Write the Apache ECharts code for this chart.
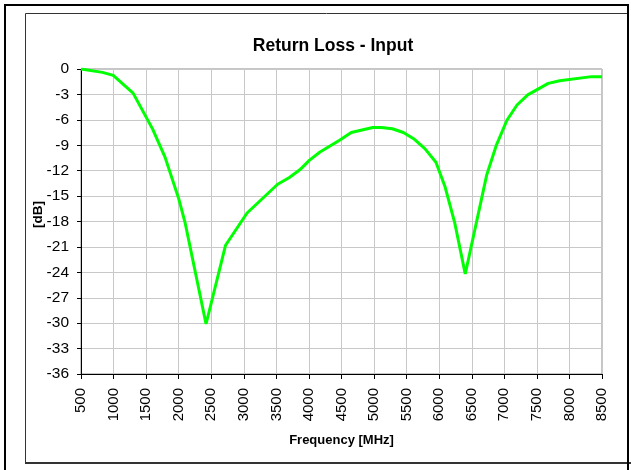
<!DOCTYPE html>
<html>
<head>
<meta charset="utf-8">
<script src="https://cdn.jsdelivr.net/npm/echarts@6/dist/echarts.min.js"></script>
<style>
  html, body { margin: 0; padding: 0; background: #fff; }
  #chart { width: 631px; height: 470px; }
</style>
</head>
<body>
<div id="chart"></div>
<script>
// frequency points [MHz]
const freqs = [500, 830, 995, 1300, 1600, 1790, 2000, 2100, 2420, 2720, 3050, 3520, 3700, 3860, 4010,
  4170, 4470, 4650, 4980, 5110, 5280, 5450, 5620, 5780, 5950, 6090, 6240, 6400, 6730, 6880, 7040,
  7195, 7360, 7675, 7850, 8340, 8500];
// return loss [dB]
const returnLoss = [0, -0.4, -0.75, -2.85, -7.1, -10.4, -15.3, -18.2, -30.1, -20.8, -17.0, -13.6, -12.8, -11.9, -10.75,
  -9.8, -8.4, -7.5, -6.9, -6.9, -7.05, -7.5, -8.3, -9.4, -11.0, -13.9, -18.2, -24.2, -12.5, -8.95, -6.05,
  -4.25, -3.05, -1.7, -1.38, -0.9, -0.9];

const chart = echarts.init(document.getElementById("chart"), null, { renderer: "canvas" });
const font = "'Liberation Sans', Arial, sans-serif";

chart.setOption({
  animation: false,
  backgroundColor: "#fff",
  title: {
    text: "Return Loss - Input",
    left: 328,
    top: 32,
    textAlign: "center",
    textStyle: { fontFamily: font, fontSize: 17.5, fontWeight: "bold", color: "#000" },
  },
  grid: {
    left: 81,
    top: 69,
    right: 29,
    bottom: 96,
    show: true,
    borderColor: "#8c8c8c",
    borderWidth: 1,
  },
  xAxis: {
    type: "value",
    min: 500,
    max: 8500,
    interval: 500,
    name: "Frequency [MHz]",
    nameLocation: "middle",
    nameGap: 60,
    nameMoveOverlap: false,
    nameTextStyle: { fontFamily: font, fontSize: 13, fontWeight: "bold", color: "#000" },
    axisLine: { onZero: false, lineStyle: { color: "#000", width: 1 } },
    axisTick: { length: 5, lineStyle: { color: "#000" } },
    axisLabel: { rotate: 90, margin: 14, fontFamily: font, fontSize: 15, color: "#000", formatter: v => String(v) },
    splitLine: { show: true, lineStyle: { color: "#c8c8c8", width: 1 } },
  },
  yAxis: {
    type: "value",
    min: -36,
    max: 0,
    interval: 3,
    name: "[dB]",
    nameLocation: "middle",
    nameGap: 36,
    nameRotate: 90,
    nameMoveOverlap: false,
    nameTextStyle: { fontFamily: font, fontSize: 13.5, fontWeight: "bold", color: "#000", padding: [0, 0, 0, 14] },
    axisLine: { show: true, onZero: false, lineStyle: { color: "#000", width: 1 } },
    axisTick: { show: true, length: 4, lineStyle: { color: "#000" } },
    axisLabel: { margin: 12, fontFamily: font, fontSize: 15.5, color: "#000" },
    splitLine: { show: true, lineStyle: { color: "#c8c8c8", width: 1 } },
  },
  series: [
    {
      type: "line",
      data: freqs.map((f, i) => [f, returnLoss[i]]),
      showSymbol: false,
      lineStyle: { color: "#00ff00", width: 3 },
    },
  ],
  graphic: [
    {
      type: "rect",
      shape: { x: 25.5, y: 13.5, width: 602, height: 449 },
      style: { fill: null, stroke: "#333", lineWidth: 1 },
      z: 100,
    },
    {
      type: "line",
      shape: { x1: 25, y1: 463, x2: 631, y2: 463 },
      style: { stroke: "#333", lineWidth: 2 },
      z: 100,
    },
    {
      type: "rect",
      shape: { x: 5, y: 5, width: 623, height: 480 },
      style: { fill: null, stroke: "#000", lineWidth: 2 },
      z: 100,
    },
  ],
});
</script>
</body>
</html>
